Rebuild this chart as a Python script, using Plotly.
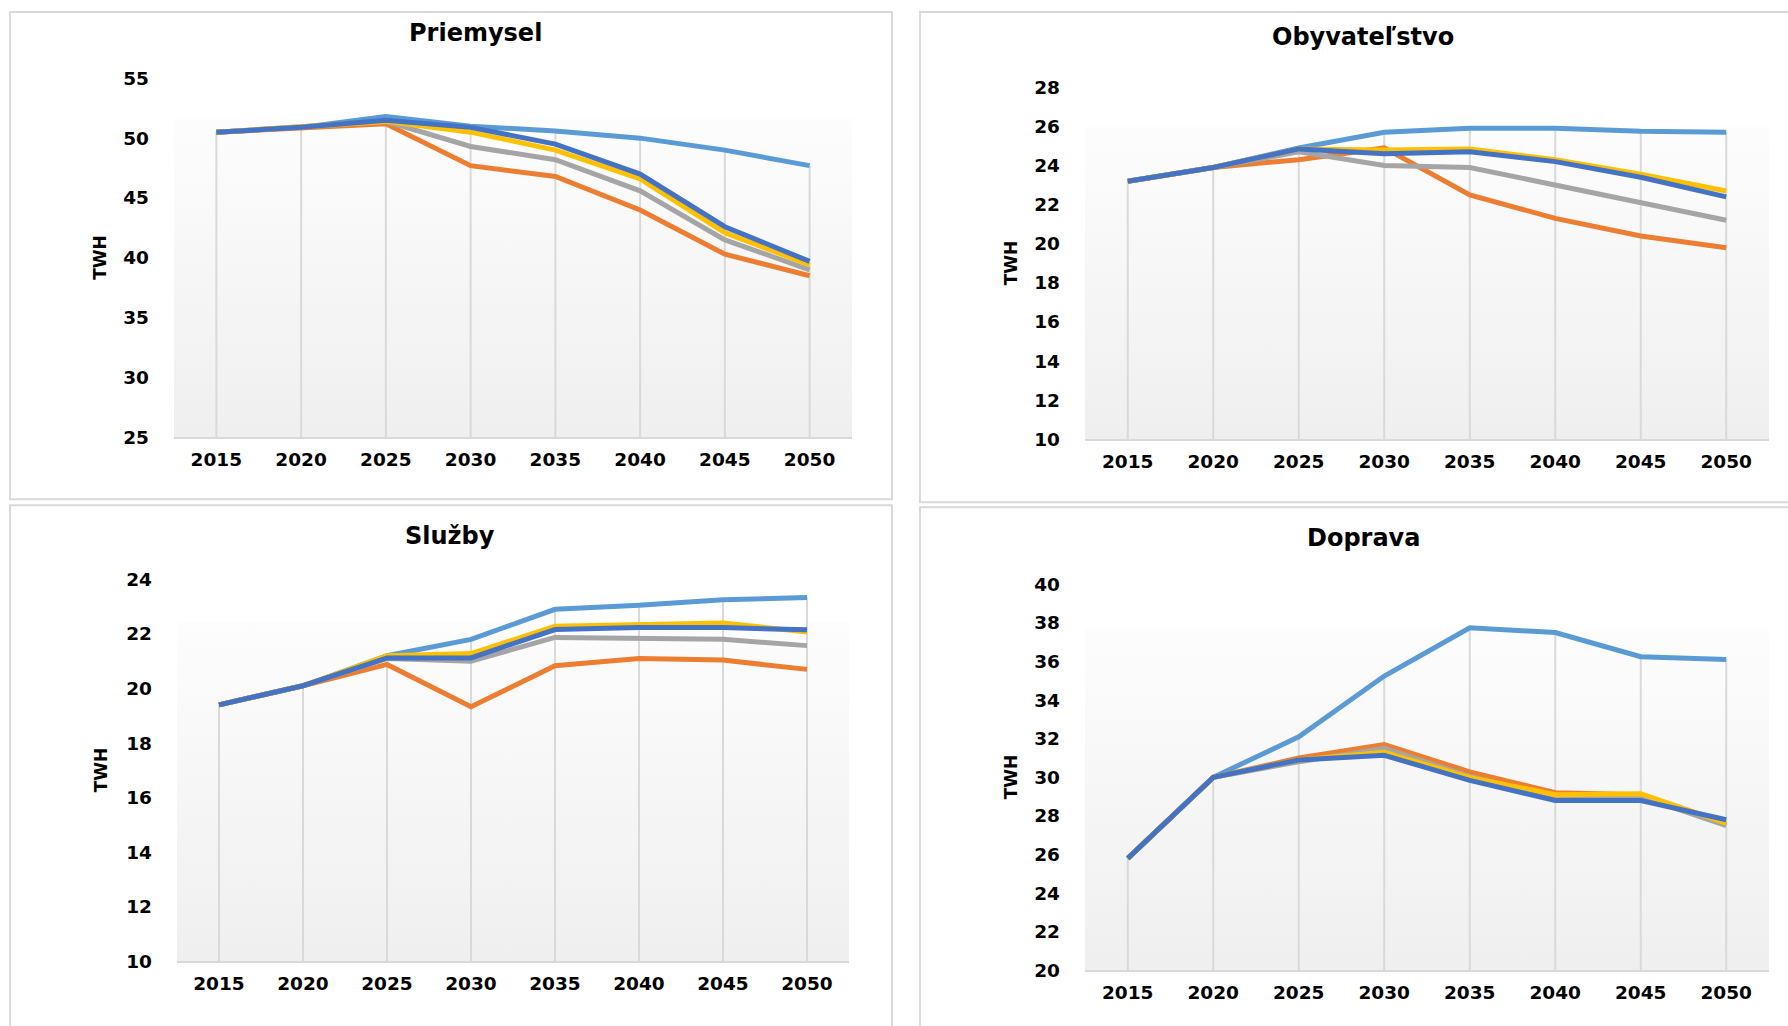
import base64
import plotly.graph_objects as go

W, H = 1788, 1026

years = ["2015", "2020", "2025", "2030", "2035", "2040", "2045", "2050"]

# Priemysel
prie_lightblue = [50.5, 50.9, 51.8, 51.0, 50.6, 50.0, 49.0, 47.7]
prie_orange    = [50.5, 50.9, 51.2, 47.7, 46.8, 44.0, 40.3, 38.5]
prie_gray      = [50.5, 50.9, 51.4, 49.3, 48.2, 45.6, 41.5, 39.0]
prie_yellow    = [50.5, 50.9, 51.4, 50.5, 49.0, 46.6, 42.1, 39.4]
prie_darkblue  = [50.5, 50.9, 51.5, 50.9, 49.5, 47.0, 42.6, 39.7]

# Obyvateľstvo
obyv_lightblue = [23.2, 23.9, 24.9, 25.7, 25.9, 25.9, 25.75, 25.7]
obyv_orange    = [23.2, 23.9, 24.3, 24.9, 22.5, 21.3, 20.4, 19.8]
obyv_gray      = [23.2, 23.9, 24.7, 24.0, 23.9, 23.0, 22.05, 21.2]
obyv_yellow    = [23.2, 23.9, 24.85, 24.8, 24.85, 24.3, 23.55, 22.7]
obyv_darkblue  = [23.2, 23.9, 24.85, 24.6, 24.7, 24.2, 23.4, 22.4]

# Služby
sluz_lightblue = [19.4, 20.1, 21.2, 21.8, 22.9, 23.05, 23.25, 23.33]
sluz_orange    = [19.4, 20.1, 20.88, 19.33, 20.83, 21.1, 21.04, 20.7]
sluz_gray      = [19.4, 20.1, 21.1, 21.0, 21.87, 21.85, 21.8, 21.57]
sluz_yellow    = [19.4, 20.1, 21.2, 21.28, 22.28, 22.34, 22.4, 22.07]
sluz_darkblue  = [19.4, 20.1, 21.12, 21.12, 22.16, 22.23, 22.23, 22.15]

# Doprava
dopr_lightblue = [25.8, 30.0, 32.1, 35.25, 37.75, 37.5, 36.25, 36.1]
dopr_orange    = [25.8, 30.0, 31.0, 31.7, 30.28, 29.2, 29.1, 27.6]
dopr_gray      = [25.8, 30.0, 30.8, 31.5, 30.05, 29.0, 29.0, 27.5]
dopr_yellow    = [25.8, 30.0, 30.9, 31.3, 30.0, 29.1, 29.15, 27.63]
dopr_darkblue  = [25.8, 30.0, 30.9, 31.14, 29.84, 28.8, 28.8, 27.8]

titles = ["Priemysel", "Obyvateľstvo", "Služby", "Doprava"]
y_ranges = [(25, 55, 5), (10, 28, 2), (10, 24, 2), (20, 40, 2)]
y_title = "TWH"

series_names = ["Scenár 5", "Scenár 2", "Scenár 3", "Scenár 4", "Scenár 1"]
series_colors = ["#5B9BD5", "#ED7D31", "#A5A5A5", "#FFC000", "#4472C4"]

panels_data = [
    [prie_lightblue, prie_orange, prie_gray, prie_yellow, prie_darkblue],
    [obyv_lightblue, obyv_orange, obyv_gray, obyv_yellow, obyv_darkblue],
    [sluz_lightblue, sluz_orange, sluz_gray, sluz_yellow, sluz_darkblue],
    [dopr_lightblue, dopr_orange, dopr_gray, dopr_yellow, dopr_darkblue],
]

# layout geometry in target pixels
plot_px = [  # x0, x1, ytop, ybottom
    (174, 852, 78, 437),
    (1085, 1769, 87, 439),
    (177, 849, 579, 961),
    (1085, 1769, 584, 970),
]
title_px = [(475, 33), (1363, 37), (450, 536), (1363, 538)]
ytitle_px = [100, 1011, 101, 1011]
boxes_px = [(10, 892, 5, 499), (920, 1800, 7, 502), (10, 892, 505, 1040), (920, 1800, 507, 1040)]

FONT = "DejaVu Sans"
GRID = "#d9d9d9"

# the rendered page shows the figure slightly squeezed vertically; compensate
Y_SCALE, Y_OFF = 0.9795, 10.7

def px_x(v):
    return v / W

def px_y(v):
    return 1 - ((v - Y_OFF) / Y_SCALE) / H

svg = ("<svg xmlns='http://www.w3.org/2000/svg' width='100' height='100' preserveAspectRatio='none'>"
       "<defs><linearGradient id='g' x1='0' y1='0' x2='0' y2='1'>"
       "<stop offset='0' stop-color='#fdfdfd'/><stop offset='1' stop-color='#efefef'/>"
       "</linearGradient></defs><rect width='100' height='100' fill='url(#g)'/></svg>")
svg_uri = "data:image/svg+xml;base64," + base64.b64encode(svg.encode()).decode()

fig = go.Figure()
layout = dict(
    width=W, height=H,
    margin=dict(l=0, r=0, t=0, b=0),
    paper_bgcolor="white",
    plot_bgcolor="white",
    showlegend=False,
    font=dict(family=FONT, color="#000000"),
)
annotations = []
shapes = []
images = []

for i in range(4):
    ax = "" if i == 0 else str(i + 1)
    xa, ya = "x" + ax, "y" + ax
    x0, x1, yt, yb = plot_px[i]
    ymin, ymax, dt = y_ranges[i]
    data = panels_data[i]

    # drop lines from the highest series value to the axis floor
    dx, dy = [], []
    for k, yr in enumerate(years):
        dx += [yr, yr, None]
        dy += [ymin, max(s[k] for s in data), None]
    fig.add_trace(go.Scatter(x=dx, y=dy, mode="lines", xaxis=xa, yaxis=ya,
                             line=dict(color=GRID, width=2), hoverinfo="skip",
                             showlegend=False))

    for name, col, vals in zip(series_names, series_colors, data):
        fig.add_trace(go.Scatter(x=years, y=vals, mode="lines", name=name,
                                 xaxis=xa, yaxis=ya,
                                 line=dict(color=col, width=5)))

    layout["xaxis" + ax] = dict(
        domain=[px_x(x0), px_x(x1)], anchor=ya, type="category",
        categoryorder="array", categoryarray=years, range=[-0.5, 7.5],
        showgrid=False, zeroline=False, showline=True, linecolor=GRID, linewidth=2,
        ticks="", ticklabelstandoff=4,
        tickfont=dict(family=FONT, size=18.5, color="#000000", weight="bold"),
    )
    layout["yaxis" + ax] = dict(
        domain=[px_y(yb), px_y(yt)], anchor=xa, range=[ymin, ymax], dtick=dt,
        tick0=ymin, showgrid=False, zeroline=False, showline=False, ticks="",
        ticklabelstandoff=24,
        tickfont=dict(family=FONT, size=18.5, color="#000000", weight="bold"),
    )
    images.append(dict(source=svg_uri, xref=xa + " domain", yref=ya + " domain",
                       x=0, y=0.89, sizex=1, sizey=0.89, xanchor="left", yanchor="top",
                       sizing="stretch", layer="below"))

    tx, ty = title_px[i]
    annotations.append(dict(text=titles[i], xref="paper", yref="paper",
                            x=px_x(tx), y=px_y(ty), xanchor="center", yanchor="middle",
                            showarrow=False,
                            font=dict(family=FONT, size=24, color="#000000", weight="bold")))
    annotations.append(dict(text=y_title, xref="paper", yref="paper",
                            x=px_x(ytitle_px[i]), y=px_y((yt + yb) / 2),
                            xanchor="center", yanchor="middle", textangle=-90,
                            showarrow=False,
                            font=dict(family=FONT, size=17, color="#000000", weight="bold")))

    bx0, bx1, by0, by1 = boxes_px[i]
    shapes.append(dict(type="rect", xref="paper", yref="paper",
                       x0=px_x(bx0), x1=px_x(bx1), y0=px_y(by1), y1=min(px_y(by0), 0.999),
                       line=dict(color=GRID, width=2), fillcolor="rgba(0,0,0,0)",
                       layer="above"))

layout["annotations"] = annotations
layout["shapes"] = shapes
layout["images"] = images
fig.update_layout(**layout)

post_js = (
    "document.documentElement.style.margin='0';"
    "document.body.style.margin='0';"
    "document.body.style.overflow='hidden';"
)

fig.write_html("out.html", config={"displayModeBar": False}, post_script=post_js)
